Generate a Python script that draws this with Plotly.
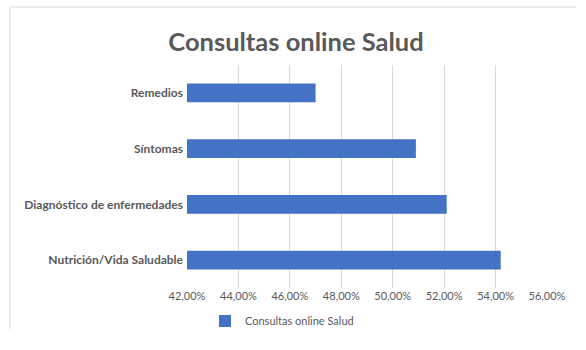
import plotly.graph_objects as go

categories = ["Remedios", "Síntomas", "Diagnóstico de enfermedades", "Nutrición/Vida Saludable"]
values = [0.470, 0.509, 0.521, 0.542]
series_name = "Consultas online Salud"
tick_vals = [0.42, 0.44, 0.46, 0.48, 0.50, 0.52, 0.54, 0.56]

W, H = 586, 350
ML, MR, MT, MB = 187, 39, 65, 62
PW, PH = W - ML - MR, H - MT - MB

def px_x(p):
    return (p - ML) / PW

def px_y(p):
    return (H - MB - p) / PH

fig = go.Figure(go.Bar(
    y=categories, x=values, orientation="h",
    name=series_name, marker=dict(color="#4472C4", line=dict(width=0)),
    showlegend=True,
))

fig.update_layout(
    width=W, height=H,
    margin=dict(l=ML, r=MR, t=MT, b=MB),
    paper_bgcolor="white", plot_bgcolor="white",
    separators=",.",
    bargap=0.66,
    font=dict(family="Lato", color="#595959"),
    title=dict(text="<b>Consultas online Salud</b>", x=296 / W, xref="container",
               xanchor="center", y=1 - 42 / H, yref="container", yanchor="middle",
               font=dict(size=25.5, color="#595959", family="Lato")),
    xaxis=dict(range=[0.42, 0.56], tickvals=tick_vals, tickformat=".2%",
               showgrid=True, gridcolor="#D9D9D9", gridwidth=1,
               zeroline=False, showline=False, ticks="",
               tickfont=dict(size=11, color="#595959")),
    yaxis=dict(autorange="reversed", showgrid=False, showline=False, ticks="",
               ticklabelstandoff=3,
               tickfont=dict(size=12, color="#595959", family="Lato"),
               categoryorder="array", categoryarray=categories),
    showlegend=True,
    legend=dict(orientation="h", x=px_x(205), xanchor="left",
                y=px_y(321), yanchor="middle", itemwidth=30,
                font=dict(size=11, color="#595959")),
    shapes=[
        dict(type="line", xref="paper", yref="paper", x0=px_x(10), x1=px_x(576),
             y0=px_y(7), y1=px_y(7), line=dict(color="#D9D9D9", width=1)),
        dict(type="line", xref="paper", yref="paper", x0=px_x(10), x1=px_x(10),
             y0=px_y(7), y1=px_y(329), line=dict(color="#D9D9D9", width=1)),
    ],
)
fig.update_yaxes(tickprefix="<b>", ticksuffix="</b>")

fig.write_html("out.html")
